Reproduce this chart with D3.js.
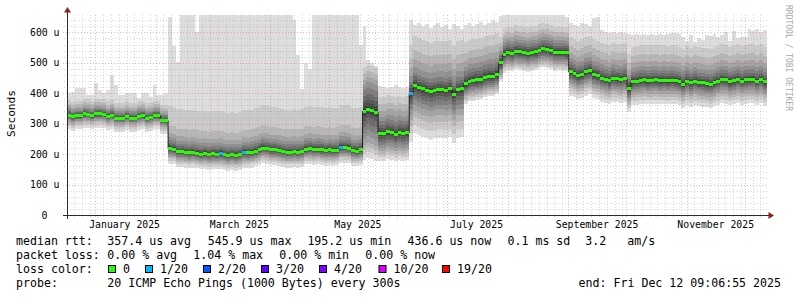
<!DOCTYPE html>
<html>
<head>
<meta charset="utf-8">
<script src="https://cdn.jsdelivr.net/npm/d3@7"></script>
<style>
  body { margin: 0; background: #fff; }
  svg { display: block; }
  text { font-family: "DejaVu Sans Mono", monospace; white-space: pre; }
</style>
</head>
<body>
<div id="chart"></div>
<script>
const endTime = new Date(Date.UTC(2025, 11, 12, 9, 6, 55))
const spanDays = 360
const binDays = 2
const yMax = 657

// median rtt per 2-day bin, in microseconds
const median = [
  328, 322, 326, 326, 332, 330, 326, 332, 332, 330, 323, 328, 318, 318, 318, 323, 318, 318, 324, 326,
  318, 320, 326, 326, 312, 310,
  219, 216, 208, 208, 206, 204, 206, 203, 200, 202, 199, 201, 200, 202, 198, 196, 198, 196, 198, 205,
  204, 206, 210, 215, 220, 218, 214, 214, 212, 208, 206, 206, 208, 206, 208, 216, 218, 215, 216, 214,
  212, 214, 212, 213, 222, 222, 220, 212, 210, 214,
  340, 348, 344, 338, 268, 268, 274, 272, 266, 272, 268, 270,
  398, 427, 420, 414, 410, 406, 410, 412, 412, 410, 414, 396, 412, 414,
  432, 440, 442, 444, 446, 452, 456, 456, 462,
  500, 528, 534, 532, 538, 536, 534, 531, 534, 536, 542, 546, 544, 540, 534, 535, 534, 533,
  470, 464, 458, 462, 470, 474, 462, 458, 450, 446, 442, 450, 448, 446, 450, 415, 438, 440, 443, 444,
  442, 443, 444, 442, 443, 441, 443, 442, 438, 430, 440, 434, 440, 436, 434, 432, 430, 436, 440, 446,
  444, 438, 442, 446, 440, 444, 446, 446, 440, 446, 437
]

// slowest ping per bin (top of the smoke)
const pingMax = [
  400, 405, 418, 418, 418, 394, 394, 433, 410, 400, 410, 460, 427, 394, 394, 400, 400, 400, 383, 400,
  400, 389, 427, 394, 394, 400,
  651, 555, 503, 660, 660, 660, 660, 602,
  660, 660, 660, 660, 660, 660, 660, 660, 660, 660, 660, 660, 660, 660, 660, 660, 660, 660, 660, 660,
  660, 660, 660, 660,
  640, 525, 415, 500, 480,
  660, 660, 660, 660, 660, 660, 660, 660, 660, 660, 660, 660,
  560, 620, 510, 500, 490,
  425, 420, 418, 422, 428, 420, 416, 422,
  640, 625, 630, 620, 628, 615, 625, 632, 618, 625, 610, 628, 620, 612,
  625, 630, 620, 628, 635, 625, 632, 640, 635,
  655, 660, 660, 660, 660, 660, 660, 660, 660, 660, 660, 660, 660, 660, 660, 660, 660, 652,
  630, 625, 620, 632, 628, 622, 648, 650, 608, 600, 598, 602, 597, 600, 598, 596, 592, 595, 590, 596,
  592, 594, 590, 595, 592, 596, 598, 597, 595, 585, 572, 590, 568, 580, 575, 592, 588, 595, 585, 590,
  600, 570, 605, 580, 585, 585, 610, 605, 612, 600, 608
]

// bins where some pings were lost: [bin, lost pings]
const lossEvents = [[39, 1], [45, 1], [70, 1], [88, 1]]

// smoke shape per period: distance of ping 1..10 below and 11..19 above the median
const regimeStart = [0, 26, 76, 80, 88, 102, 111, 129]
const smokeBelow = [
  [45, 35, 28, 22, 17, 12, 9, 6, 4, 2],
  [50, 40, 33, 27, 22, 17, 12, 8, 5, 2],
  [160, 140, 125, 110, 90, 70, 50, 30, 15, 5],
  [90, 78, 67, 57, 47, 37, 27, 18, 10, 4],
  [158, 130, 105, 85, 65, 50, 35, 22, 12, 4],
  [66, 58, 50, 42, 35, 28, 22, 16, 10, 4],
  [60, 53, 46, 39, 32, 25, 19, 13, 8, 3],
  [78, 65, 54, 44, 35, 27, 20, 14, 8, 3]
]
const smokeAbove = [
  [2, 5, 8, 12, 17, 23, 30, 38, 50],
  [3, 7, 12, 18, 26, 36, 50, 75, 140],
  [8, 20, 35, 50, 70, 88, 105, 125, 145],
  [4, 10, 18, 28, 40, 55, 75, 95, 120],
  [4, 10, 18, 28, 40, 60, 85, 115, 160],
  [4, 10, 18, 28, 40, 55, 75, 100, 135],
  [3, 8, 14, 21, 30, 40, 52, 66, 85],
  [3, 8, 14, 22, 32, 45, 62, 85, 115]
]

const lossSteps = [0, 1, 2, 3, 4, 10, 19]
const lossLabels = ['0', '1/20', '2/20', '3/20', '4/20', '10/20', '19/20']
const lossColors = ['#26ff00', '#00b8ff', '#0059ff', '#5e00ff', '#7e00ff', '#dd00ff', '#ff0000']

const yMajor = [100, 200, 300, 400, 500, 600]
const yLabels = ['100 u', '200 u', '300 u', '400 u', '500 u', '600 u']
const monthLabels = ['January 2025', 'March 2025', 'May 2025', 'July 2025', 'September 2025', 'November 2025']

const legendRtt = [
  ['median rtt:', 16], ['357.4 us avg', 107.3], ['545.9 us max', 207.7], ['195.2 us min', 307.4],
  ['436.6 us now', 407.5], ['0.1 ms sd', 507.5], ['3.2', 585.3], ['am/s', 627.3]
]
const legendLoss = [
  ['packet loss:', 16], ['0.00 % avg', 107.3], ['1.04 % max', 193.3], ['0.00 % min', 279.3], ['0.00 % now', 365.3]
]
const swatchX = [108.5, 145.5, 203.5, 261.5, 319.5, 379, 442.5]

const day = 864e5
const startTime = new Date(endTime.getTime() - spanDays * day)
const binTime = i => new Date(startTime.getTime() + i * binDays * day)

const x = d3.scaleUtc().domain([startTime, endTime]).range([67, 767])
const y = d3.scaleLinear().domain([0, yMax]).range([215, 15])

const svg = d3.select('#chart')
  .append('svg')
  .attr('width', 797)
  .attr('height', 297)

svg.append('defs').append('clipPath')
  .attr('id', 'plot')
  .append('rect')
  .attr('x', 67).attr('y', 15).attr('width', 700).attr('height', 200)

const rows = median.map((m, i) => {
  const r = d3.bisectRight(regimeStart, i) - 1
  const p = smokeBelow[r].map(d => m - d).concat(smokeAbove[r].map(d => m + d))
  p.push(pingMax[i])
  p[18] = Math.min(p[18], p[19])
  return { t: binTime(i), m, p }
})
const stepRows = rows.concat([{ ...rows[rows.length - 1], t: endTime }])

const plot = svg.append('g').attr('clip-path', 'url(#plot)')

// smoke: outer pair of pings first, darker pairs on top
d3.range(10).forEach(j => {
  const shade = Math.floor(190 / 10 * (10 - (j + 1))) + 50
  plot.append('path')
    .datum(stepRows)
    .attr('fill', d3.rgb(shade, shade, shade))
    .attr('shape-rendering', 'crispEdges')
    .attr('d', d3.area()
      .curve(d3.curveStepAfter)
      .x(d => x(d.t))
      .y0(d => y(d.p[j]))
      .y1(d => y(d.p[19 - j])))
})

// grid
const minorColor = 'rgba(150,150,150,0.38)'
const majorColor = 'rgba(230,80,80,0.42)'
const gridG = svg.append('g')
const minorDays = d3.utcDay.every(4).range(d3.utcDay.floor(startTime), endTime)
  .filter(d => d > startTime && d.getUTCDate() !== 1)
gridG.selectAll('.vminor')
  .data(minorDays)
  .join('line')
  .attr('x1', d => Math.round(x(d)) + 0.5)
  .attr('x2', d => Math.round(x(d)) + 0.5)
  .attr('y1', 15).attr('y2', 217)
  .attr('stroke', minorColor)
  .attr('stroke-dasharray', '1,2')

const yMinor = d3.range(20, 660, 20).filter(v => v % 100 !== 0 && v <= yMax)
gridG.selectAll('.hminor')
  .data(yMinor)
  .join('line')
  .attr('x1', 64).attr('x2', 767)
  .attr('y1', d => Math.round(y(d)) + 0.5)
  .attr('y2', d => Math.round(y(d)) + 0.5)
  .attr('stroke', minorColor)
  .attr('stroke-dasharray', '1,2')

const months = d3.utcMonth.range(startTime, endTime)
gridG.selectAll('.vmajor')
  .data(months)
  .join('line')
  .attr('x1', d => Math.round(x(d)) + 0.5)
  .attr('x2', d => Math.round(x(d)) + 0.5)
  .attr('y1', 15).attr('y2', 218)
  .attr('stroke', majorColor)
  .attr('stroke-dasharray', '1,2')

gridG.selectAll('.hmajor')
  .data(yMajor)
  .join('line')
  .attr('x1', 63).attr('x2', 767)
  .attr('y1', d => Math.round(y(d)) + 0.5)
  .attr('y2', d => Math.round(y(d)) + 0.5)
  .attr('stroke', majorColor)
  .attr('stroke-dasharray', '1,2')

// median: dark step line, then loss coloured bars
plot.append('path')
  .datum(stepRows)
  .attr('fill', 'none')
  .attr('stroke', '#202020')
  .attr('stroke-width', 1)
  .attr('d', d3.line().curve(d3.curveStepAfter).x(d => x(d.t)).y(d => y(d.m)))

const lossByBin = new Map(lossEvents)
const sw = yMax / 200 * 1.5
plot.selectAll('.med')
  .data(rows)
  .join('rect')
  .attr('shape-rendering', 'crispEdges')
  .attr('x', (d, i) => x(d.t))
  .attr('width', (d, i) => x(binTime(i + 1)) - x(d.t))
  .attr('y', d => y(d.m + sw))
  .attr('height', d => y(d.m - sw) - y(d.m + sw))
  .attr('fill', (d, i) => {
    const lost = lossByBin.get(i) || 0
    return lossColors[d3.bisectRight(lossSteps, lost) - 1]
  })

// axes
const axisColor = '#2b2b2b'
const arrowColor = '#8c2323'
svg.append('line')
  .attr('x1', 63).attr('x2', 770).attr('y1', 215.5).attr('y2', 215.5)
  .attr('stroke', axisColor)
svg.append('line')
  .attr('x1', 67.5).attr('x2', 67.5).attr('y1', 219).attr('y2', 10)
  .attr('stroke', axisColor)
svg.append('path')
  .attr('d', 'M67.5,7 L64,12.5 L71,12.5 Z')
  .attr('fill', arrowColor)
svg.append('path')
  .attr('d', 'M774,215.5 L768.5,212 L768.5,219 Z')
  .attr('fill', arrowColor)

svg.selectAll('.ylab')
  .data(yMajor)
  .join('text')
  .attr('x', 59.5)
  .attr('y', d => y(d) + 3.5)
  .attr('text-anchor', 'end')
  .attr('font-size', '9.8px')
  .attr('fill', '#000')
  .text((d, i) => yLabels[i])
svg.append('text')
  .attr('x', 47.5)
  .attr('y', y(0) + 3.5)
  .attr('text-anchor', 'end')
  .attr('font-size', '9.8px')
  .text('0')

const labelMonths = months.filter(d => d.getUTCMonth() % 2 === 0)
svg.selectAll('.xlab')
  .data(labelMonths)
  .join('text')
  .attr('x', d => x(d3.utcDay.offset(d, 15)))
  .attr('y', 227.5)
  .attr('text-anchor', 'middle')
  .attr('font-size', '9.8px')
  .text((d, i) => monthLabels[i])

svg.append('text')
  .attr('transform', 'translate(14.5,113.5) rotate(-90)')
  .attr('text-anchor', 'middle')
  .attr('font-size', '11.2px')
  .text('Seconds')

svg.append('text')
  .attr('transform', 'translate(785.5,5) rotate(90)')
  .attr('font-size', '8px')
  .attr('fill', '#a8a8a8')
  .text('RRDTOOL / TOBI OETIKER')

// legend
const legendFont = '11.6px'
const legendLine = (items, baseline) => {
  svg.append('g')
    .selectAll('text')
    .data(items)
    .join('text')
    .attr('x', d => d[1])
    .attr('y', baseline)
    .attr('font-size', legendFont)
    .text(d => d[0])
}
legendLine(legendRtt, 245.3)
legendLine(legendLoss, 259.3)
legendLine([['loss color:', 16]], 273.3)
legendLine([['probe:', 16], ['20 ICMP Echo Pings (1000 Bytes) every 300s', 107.3]], 287.3)

svg.append('text')
  .attr('x', 781)
  .attr('y', 287.3)
  .attr('text-anchor', 'end')
  .attr('font-size', legendFont)
  .text('end: Fri Dec 12 09:06:55 2025')

const swatches = svg.append('g')
swatches.selectAll('rect')
  .data(lossColors)
  .join('rect')
  .attr('x', (d, i) => swatchX[i])
  .attr('y', 265.5)
  .attr('width', 7)
  .attr('height', 7)
  .attr('fill', d => d)
  .attr('stroke', '#000')
  .attr('stroke-width', 1)
swatches.selectAll('text')
  .data(lossLabels)
  .join('text')
  .attr('x', (d, i) => swatchX[i] + 14.5)
  .attr('y', 273.3)
  .attr('font-size', legendFont)
  .text(d => d)
</script>
</body>
</html>
